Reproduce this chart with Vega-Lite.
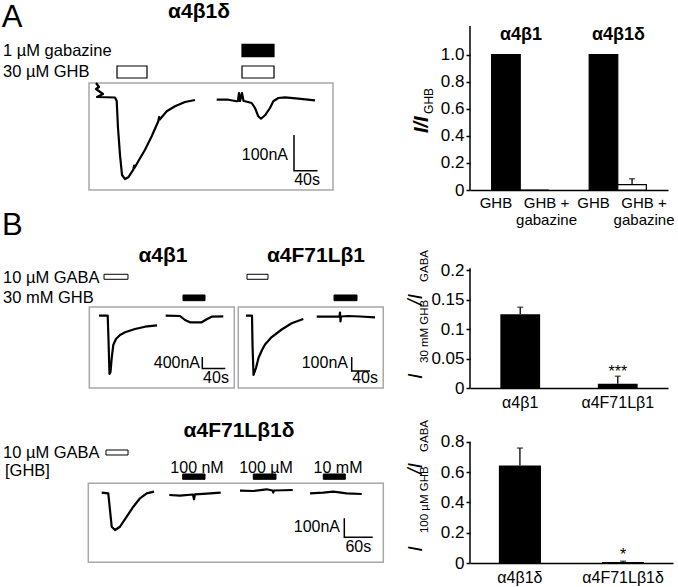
{
"$schema": "https://vega.github.io/schema/vega-lite/v6.json",
"padding": 0,
"background": "white",
"columns": 2,
"spacing": {"row": 0, "column": 30},
"bounds": "flush",
"align": "each",
"resolve": {"scale": {"x": "independent", "y": "independent", "fill": "independent", "xOffset": "independent"}},
"config": {"font": "Liberation Sans", "view": {"stroke": null}, "axis": {"labelColor": "black", "domainColor": "black", "tickColor": "black", "labelOverlap": false, "labelBound": false}},
"concat": [
{
 "width": 440, "height": 190,
 "layer": [
  {"data": {"values": [{"t": 151.3, "t2": 566.1, "I": 39.2, "I2": -260.4}]},
   "mark": {"type": "rect", "fill": "white", "fillOpacity": 0, "stroke": "#a8a8a8", "strokeWidth": 1.5},
   "encoding": {"x": {"field": "t", "type": "quantitative", "scale": {"domain": [0, 748], "nice": false, "zero": false}, "axis": null}, "x2": {"field": "t2"},
                "y": {"field": "I", "type": "quantitative", "scale": {"domain": [-260.4, 271.6], "nice": false, "zero": false}, "axis": null}, "y2": {"field": "I2"}}},
  {"data": {"values": [
     {"drug": "GHB", "t": 198.9, "t2": 249.9, "I": 86.8, "I2": 53.2},
     {"drug": "gabazine", "t": 411.4, "t2": 465.8, "I": 147.6, "I2": 112.9},
     {"drug": "GHB", "t": 411.4, "t2": 465.8, "I": 86.8, "I2": 53.2}]},
   "mark": {"type": "rect", "stroke": "black", "strokeWidth": 1.2},
   "encoding": {"x": {"field": "t", "type": "quantitative", "axis": null}, "x2": {"field": "t2"},
                "y": {"field": "I", "type": "quantitative", "axis": null}, "y2": {"field": "I2"},
                "fill": {"field": "drug", "type": "nominal", "scale": {"domain": ["GHB", "gabazine"], "range": ["white", "black"]}, "legend": null}}},
  {"data": {"values": [
     {"trace": "GHB", "i": 0, "t": 163.2, "I": 39.2},
     {"trace": "GHB", "i": 1, "t": 168.3, "I": 28},
     {"trace": "GHB", "i": 2, "t": 163.2, "I": 22.4},
     {"trace": "GHB", "i": 3, "t": 175.1, "I": 8.4},
     {"trace": "GHB", "i": 4, "t": 164.9, "I": 0},
     {"trace": "GHB", "i": 5, "t": 195.5, "I": -1.4},
     {"trace": "GHB", "i": 6, "t": 198.4, "I": -11.2},
     {"trace": "GHB", "i": 7, "t": 200.6, "I": -86.8},
     {"trace": "GHB", "i": 8, "t": 204, "I": -162.4},
     {"trace": "GHB", "i": 9, "t": 207.4, "I": -218.4},
     {"trace": "GHB", "i": 10, "t": 212.5, "I": -229.6},
     {"trace": "GHB", "i": 11, "t": 218.1, "I": -224.8},
     {"trace": "GHB", "i": 12, "t": 226.6, "I": -203.6},
     {"trace": "GHB", "i": 13, "t": 228, "I": -192},
     {"trace": "GHB", "i": 14, "t": 228.6, "I": -199},
     {"trace": "GHB", "i": 15, "t": 235.1, "I": -180},
     {"trace": "GHB", "i": 16, "t": 246.5, "I": -147.6},
     {"trace": "GHB", "i": 17, "t": 257.9, "I": -110},
     {"trace": "GHB", "i": 18, "t": 269.1, "I": -68},
     {"trace": "GHB", "i": 19, "t": 270.5, "I": -56},
     {"trace": "GHB", "i": 20, "t": 271.6, "I": -63},
     {"trace": "GHB", "i": 21, "t": 283.4, "I": -40},
     {"trace": "GHB", "i": 22, "t": 297.5, "I": -26},
     {"trace": "GHB", "i": 23, "t": 314.5, "I": -14},
     {"trace": "GHB", "i": 24, "t": 331.5, "I": -8.4},
     {"trace": "GHB + gabazine", "i": 0, "t": 368.4, "I": -7.6},
     {"trace": "GHB + gabazine", "i": 1, "t": 388.1, "I": -7.6},
     {"trace": "GHB + gabazine", "i": 2, "t": 402.4, "I": -12},
     {"trace": "GHB + gabazine", "i": 3, "t": 404.6, "I": -11.2},
     {"trace": "GHB + gabazine", "i": 4, "t": 406.3, "I": 11.2},
     {"trace": "GHB + gabazine", "i": 5, "t": 408, "I": -11.2},
     {"trace": "GHB + gabazine", "i": 6, "t": 411.4, "I": 11.2},
     {"trace": "GHB + gabazine", "i": 7, "t": 414, "I": -11.2},
     {"trace": "GHB + gabazine", "i": 8, "t": 416.5, "I": -12},
     {"trace": "GHB + gabazine", "i": 9, "t": 427.9, "I": -16.8},
     {"trace": "GHB + gabazine", "i": 10, "t": 433.5, "I": -30.8},
     {"trace": "GHB + gabazine", "i": 11, "t": 439.1, "I": -54},
     {"trace": "GHB + gabazine", "i": 12, "t": 443.7, "I": -60.8},
     {"trace": "GHB + gabazine", "i": 13, "t": 450.5, "I": -51.2},
     {"trace": "GHB + gabazine", "i": 14, "t": 459, "I": -30.8},
     {"trace": "GHB + gabazine", "i": 15, "t": 464.6, "I": -12},
     {"trace": "GHB + gabazine", "i": 16, "t": 473.1, "I": -2.8},
     {"trace": "GHB + gabazine", "i": 17, "t": 484.5, "I": -0.8},
     {"trace": "GHB + gabazine", "i": 18, "t": 507.1, "I": -4.8},
     {"trace": "GHB + gabazine", "i": 19, "t": 535.5, "I": -9.2}]},
   "mark": {"type": "line", "color": "black", "strokeWidth": 2.2, "strokeJoin": "round"},
   "encoding": {"x": {"field": "t", "type": "quantitative", "axis": null}, "y": {"field": "I", "type": "quantitative", "axis": null},
                "detail": {"field": "trace"}, "order": {"field": "i", "type": "quantitative"}}},
  {"data": {"values": [{"i": 0, "t": 499.8, "I": -106.3}, {"i": 1, "t": 499.8, "I": -206.3}, {"i": 2, "t": 539.8, "I": -206.3}]},
   "mark": {"type": "line", "color": "black", "strokeWidth": 1.5},
   "encoding": {"x": {"field": "t", "type": "quantitative", "axis": null}, "y": {"field": "I", "type": "quantitative", "axis": null}, "order": {"field": "i", "type": "quantitative"}}},
  {"data": {"values": [{"label": "1 µM gabazine", "t": 5.1, "I": 116.2}, {"label": "30 µM GHB", "t": 5.1, "I": 56}]},
   "mark": {"type": "text", "align": "left", "baseline": "alphabetic", "fontSize": 16.5},
   "encoding": {"x": {"field": "t", "type": "quantitative", "axis": null}, "y": {"field": "I", "type": "quantitative", "axis": null}, "text": {"field": "label"}}},
  {"data": {"values": [{"label": "100nA", "t": 489.6, "I": -175}]},
   "mark": {"type": "text", "align": "right", "baseline": "alphabetic", "fontSize": 16},
   "encoding": {"x": {"field": "t", "type": "quantitative", "axis": null}, "y": {"field": "I", "type": "quantitative", "axis": null}, "text": {"field": "label"}}},
  {"data": {"values": [{"label": "40s", "t": 522, "I": -246.4}]},
   "mark": {"type": "text", "align": "center", "baseline": "alphabetic", "fontSize": 16},
   "encoding": {"x": {"field": "t", "type": "quantitative", "axis": null}, "y": {"field": "I", "type": "quantitative", "axis": null}, "text": {"field": "label"}}},
  {"data": {"values": [{"label": "α4β1δ", "t": 338.3, "I": 221.2}]},
   "mark": {"type": "text", "align": "center", "baseline": "alphabetic", "fontSize": 21, "fontWeight": "bold"},
   "encoding": {"x": {"field": "t", "type": "quantitative", "axis": null}, "y": {"field": "I", "type": "quantitative", "axis": null}, "text": {"field": "label"}}},
  {"data": {"values": [{"label": "A", "t": 2.9, "I": 196}]},
   "mark": {"type": "text", "align": "left", "baseline": "alphabetic", "fontSize": 31},
   "encoding": {"x": {"field": "t", "type": "quantitative", "axis": null}, "y": {"field": "I", "type": "quantitative", "axis": null}, "text": {"field": "label"}}}
 ]
},
{
 "width": 198, "height": 190,
 "data": {"values": [
   {"group": "α4β1", "cond": "GHB", "value": 1.0, "upper": 1.0},
   {"group": "α4β1", "cond": "GHB + gabazine", "value": 0, "upper": 0},
   {"group": "α4β1δ", "cond": "GHB", "value": 1.0, "upper": 1.0},
   {"group": "α4β1δ", "cond": "GHB + gabazine", "value": 0.04, "upper": 0.083}]},
 "layer": [
  {"mark": {"type": "bar", "stroke": "black", "strokeWidth": 1.2},
   "encoding": {
     "x": {"field": "group", "type": "nominal", "sort": null, "scale": {"paddingInner": 0.414, "paddingOuter": 0.222}, "axis": {"labels": false, "ticks": false, "title": null, "domainWidth": 1.5, "domainColor": "black"}},
     "xOffset": {"field": "cond", "type": "nominal", "sort": null, "scale": {"paddingInner": 0, "paddingOuter": 0}},
     "y": {"field": "value", "type": "quantitative", "scale": {"domain": [0, 1.404], "nice": false}, "axis": {"values": [0, 0.2, 0.4, 0.6, 0.8, 1.0], "labelOverlap": false, "tickCount": 6, "domain": false, "tickSize": 4, "tickWidth": 1.5, "labelFontSize": 17, "labelPadding": 2, "grid": false, "title": null, "labelExpr": "datum.value == 0 ? '0' : format(datum.value, '.1f')"}},
     "fill": {"field": "cond", "type": "nominal", "scale": {"domain": ["GHB", "GHB + gabazine"], "range": ["black", "white"]}, "legend": null}}},
  {"transform": [{"filter": "datum.upper > datum.value"}],
   "mark": {"type": "rule", "color": "black", "strokeWidth": 1.3},
   "encoding": {"x": {"field": "group", "type": "nominal", "sort": null}, "xOffset": {"field": "cond", "type": "nominal", "sort": null},
                "y": {"field": "value", "type": "quantitative"}, "y2": {"field": "upper"}}},
  {"transform": [{"filter": "datum.upper > datum.value"}],
   "mark": {"type": "tick", "color": "black", "size": 6, "thickness": 1.3},
   "encoding": {"x": {"field": "group", "type": "nominal", "sort": null}, "xOffset": {"field": "cond", "type": "nominal", "sort": null},
                "y": {"field": "upper", "type": "quantitative"}}},
  {"transform": [{"filter": "datum.cond == 'GHB'"}],
   "mark": {"type": "text", "fontSize": 18, "fontWeight": "bold", "baseline": "alphabetic", "dx": 15},
   "encoding": {"x": {"field": "group", "type": "nominal", "sort": null}, "xOffset": {"field": "cond", "type": "nominal", "sort": null}, "y": {"datum": 1.11}, "text": {"field": "group"}}},
  {"transform": [{"filter": "datum.cond == 'GHB'"}],
   "mark": {"type": "text", "fontSize": 15, "baseline": "alphabetic", "dx": -10},
   "encoding": {"x": {"field": "group", "type": "nominal", "sort": null}, "xOffset": {"field": "cond", "type": "nominal", "sort": null}, "y": {"datum": -0.133}, "text": {"value": "GHB"}}},
  {"transform": [{"filter": "datum.cond == 'GHB + gabazine'"}],
   "mark": {"type": "text", "fontSize": 15, "baseline": "alphabetic", "dx": 12, "lineBreak": "\n", "lineHeight": 17},
   "encoding": {"x": {"field": "group", "type": "nominal", "sort": null}, "xOffset": {"field": "cond", "type": "nominal", "sort": null}, "y": {"datum": -0.133}, "text": {"value": "GHB +\ngabazine"}}},
  {"data": {"values": [{}]},
   "mark": {"type": "rule", "color": "black", "strokeWidth": 1.5},
   "encoding": {"x": {"value": 0}, "y": {"datum": 0}, "y2": {"datum": 1.212}}},
  {"data": {"values": [{}]},
   "mark": {"type": "text", "angle": 270, "align": "left", "baseline": "alphabetic", "fontSize": 20, "fontStyle": "italic", "fontWeight": "bold"},
   "encoding": {"x": {"value": -42}, "y": {"datum": 0.421}, "text": {"value": "I/I"}}},
  {"data": {"values": [{}]},
   "mark": {"type": "text", "angle": 270, "align": "left", "baseline": "alphabetic", "fontSize": 12},
   "encoding": {"x": {"value": -37}, "y": {"datum": 0.562}, "text": {"value": "GHB"}}}
 ]
},
{
 "width": 440, "height": 198,
 "resolve": {"scale": {"x": "independent", "y": "independent"}},
 "layer": [
  {"layer": [
    {"data": {"values": [{"t": 155.4, "t2": 407.7, "I": 302.8, "I2": -2516}, {"t": 414.6, "t2": 666.9, "I": 302.8, "I2": -2516}]},
     "mark": {"type": "rect", "fill": "white", "fillOpacity": 0, "stroke": "#a8a8a8", "strokeWidth": 1.5},
     "encoding": {"x": {"field": "t", "type": "quantitative", "scale": {"domain": [0, 765.6], "nice": false, "zero": false}, "axis": null}, "x2": {"field": "t2"},
                  "y": {"field": "I", "type": "quantitative", "scale": {"domain": [-2516, 4374], "nice": false, "zero": false}, "axis": null}, "y2": {"field": "I2"}}},
    {"data": {"values": [
       {"drug": "GABA", "t": 181, "t2": 222.7, "I": 1440.7, "I2": 1266.7},
       {"drug": "GABA", "t": 429.8, "t2": 466.3, "I": 1440.7, "I2": 1266.7},
       {"drug": "GHB", "t": 318.4, "t2": 356.7, "I": 720.4, "I2": 522},
       {"drug": "GHB", "t": 581.2, "t2": 621.2, "I": 720.4, "I2": 522}]},
     "mark": {"type": "rect", "stroke": "black", "strokeWidth": 1},
     "encoding": {"x": {"field": "t", "type": "quantitative", "axis": null}, "x2": {"field": "t2"},
                  "y": {"field": "I", "type": "quantitative", "axis": null}, "y2": {"field": "I2"},
                  "fill": {"field": "drug", "type": "nominal", "scale": {"domain": ["GABA", "GHB"], "range": ["white", "black"]}, "legend": null}}},
    {"data": {"values": [
       {"trace": "GABA", "i": 0, "t": 172.3, "I": 0},
       {"trace": "GABA", "i": 1, "t": 187.4, "I": 0},
       {"trace": "GABA", "i": 2, "t": 188.8, "I": -845.6},
       {"trace": "GABA", "i": 3, "t": 190.5, "I": -2028.8},
       {"trace": "GABA", "i": 4, "t": 192.3, "I": -1959.2},
       {"trace": "GABA", "i": 5, "t": 194.4, "I": -1472},
       {"trace": "GABA", "i": 6, "t": 197.1, "I": -1019.6},
       {"trace": "GABA", "i": 7, "t": 201.8, "I": -810.8},
       {"trace": "GABA", "i": 8, "t": 208.8, "I": -671.6},
       {"trace": "GABA", "i": 9, "t": 217.5, "I": -577.7},
       {"trace": "GABA", "i": 10, "t": 234.9, "I": -462.8},
       {"trace": "GABA", "i": 11, "t": 252.3, "I": -382.8},
       {"trace": "GABA", "i": 12, "t": 273.2, "I": -334.1},
       {"trace": "GHB", "i": 0, "t": 288.3, "I": 0},
       {"trace": "GHB", "i": 1, "t": 313.2, "I": -10.4},
       {"trace": "GHB", "i": 2, "t": 321.9, "I": -149.6},
       {"trace": "GHB", "i": 3, "t": 330.6, "I": -229.7},
       {"trace": "GHB", "i": 4, "t": 351, "I": -229.7},
       {"trace": "GHB", "i": 5, "t": 359.7, "I": -125.3},
       {"trace": "GHB", "i": 6, "t": 368.4, "I": -34.8},
       {"trace": "GHB", "i": 7, "t": 388.5, "I": -20.9}]},
     "mark": {"type": "line", "color": "black", "strokeWidth": 2.2, "strokeJoin": "round"},
     "encoding": {"x": {"field": "t", "type": "quantitative", "axis": null}, "y": {"field": "I", "type": "quantitative", "axis": null},
                  "detail": {"field": "trace"}, "order": {"field": "i", "type": "quantitative"}}},
    {"data": {"values": [{"i": 0, "t": 352, "I": -1437}, {"i": 1, "t": 352, "I": -1837}, {"i": 2, "t": 392, "I": -1837}]},
     "mark": {"type": "line", "color": "black", "strokeWidth": 1.5},
     "encoding": {"x": {"field": "t", "type": "quantitative", "axis": null}, "y": {"field": "I", "type": "quantitative", "axis": null}, "order": {"field": "i", "type": "quantitative"}}},
    {"data": {"values": [{"label": "10 µM GABA", "t": 5.2, "I": 1138}, {"label": "30 mM GHB", "t": 5.2, "I": 442}]},
     "mark": {"type": "text", "align": "left", "baseline": "alphabetic", "fontSize": 16.5},
     "encoding": {"x": {"field": "t", "type": "quantitative", "axis": null}, "y": {"field": "I", "type": "quantitative", "axis": null}, "text": {"field": "label"}}},
    {"data": {"values": [{"label": "400nA", "t": 348, "I": -1820}]},
     "mark": {"type": "text", "align": "right", "baseline": "alphabetic", "fontSize": 16},
     "encoding": {"x": {"field": "t", "type": "quantitative", "axis": null}, "y": {"field": "I", "type": "quantitative", "axis": null}, "text": {"field": "label"}}},
    {"data": {"values": [{"label": "40s", "t": 375.8, "I": -2342}]},
     "mark": {"type": "text", "align": "center", "baseline": "alphabetic", "fontSize": 16},
     "encoding": {"x": {"field": "t", "type": "quantitative", "axis": null}, "y": {"field": "I", "type": "quantitative", "axis": null}, "text": {"field": "label"}}},
    {"data": {"values": [{"label": "α4β1", "t": 283.6, "I": 1868.8}, {"label": "α4F71Lβ1", "t": 549.8, "I": 1868.8}]},
     "mark": {"type": "text", "align": "center", "baseline": "alphabetic", "fontSize": 21, "fontWeight": "bold"},
     "encoding": {"x": {"field": "t", "type": "quantitative", "axis": null}, "y": {"field": "I", "type": "quantitative", "axis": null}, "text": {"field": "label"}}},
    {"data": {"values": [{"label": "B", "t": 3.5, "I": 2808}]},
     "mark": {"type": "text", "align": "left", "baseline": "alphabetic", "fontSize": 31},
     "encoding": {"x": {"field": "t", "type": "quantitative", "axis": null}, "y": {"field": "I", "type": "quantitative", "axis": null}, "text": {"field": "label"}}}
  ]},
  {"layer": [
    {"data": {"values": [
       {"trace": "GABA", "i": 0, "t": 538.7, "I": 0},
       {"trace": "GABA", "i": 1, "t": 551.9, "I": 0},
       {"trace": "GABA", "i": 2, "t": 553, "I": -209.2},
       {"trace": "GABA", "i": 3, "t": 555.2, "I": -423.4},
       {"trace": "GABA", "i": 4, "t": 560.6, "I": -373.4},
       {"trace": "GABA", "i": 5, "t": 566.1, "I": -302},
       {"trace": "GABA", "i": 6, "t": 573.8, "I": -244.9},
       {"trace": "GABA", "i": 7, "t": 580.4, "I": -205.6},
       {"trace": "GABA", "i": 8, "t": 595, "I": -152.1},
       {"trace": "GABA", "i": 9, "t": 616.9, "I": -98.5},
       {"trace": "GABA", "i": 10, "t": 638.8, "I": -54.3},
       {"trace": "GABA", "i": 11, "t": 664.2, "I": -23.6},
       {"trace": "GHB", "i": 0, "t": 693.6, "I": -7.1},
       {"trace": "GHB", "i": 1, "t": 740.9, "I": -7.1},
       {"trace": "GHB", "i": 2, "t": 743.5, "I": -5.7},
       {"trace": "GHB", "i": 3, "t": 744.6, "I": 22.8},
       {"trace": "GHB", "i": 4, "t": 745.7, "I": -41.4},
       {"trace": "GHB", "i": 5, "t": 746.8, "I": -5.7},
       {"trace": "GHB", "i": 6, "t": 762.8, "I": -2.1},
       {"trace": "GHB", "i": 7, "t": 788.4, "I": -5.7},
       {"trace": "GHB", "i": 8, "t": 821.3, "I": -11.4}]},
     "mark": {"type": "line", "color": "black", "strokeWidth": 2.2, "strokeJoin": "round"},
     "encoding": {"x": {"field": "t", "type": "quantitative", "scale": {"domain": [0, 963.6], "nice": false, "zero": false}, "axis": null},
                  "y": {"field": "I", "type": "quantitative", "scale": {"domain": [-516.2, 897.5], "nice": false, "zero": false}, "axis": null},
                  "detail": {"field": "trace"}, "order": {"field": "i", "type": "quantitative"}}},
    {"data": {"values": [{"i": 0, "t": 770.2, "I": -294.9}, {"i": 1, "t": 770.2, "I": -394.9}, {"i": 2, "t": 810.2, "I": -394.9}]},
     "mark": {"type": "line", "color": "black", "strokeWidth": 1.5},
     "encoding": {"x": {"field": "t", "type": "quantitative", "axis": null}, "y": {"field": "I", "type": "quantitative", "axis": null}, "order": {"field": "i", "type": "quantitative"}}},
    {"data": {"values": [{"label": "100nA", "t": 762.1, "I": -373.4}]},
     "mark": {"type": "text", "align": "right", "baseline": "alphabetic", "fontSize": 16},
     "encoding": {"x": {"field": "t", "type": "quantitative", "axis": null}, "y": {"field": "I", "type": "quantitative", "axis": null}, "text": {"field": "label"}}},
    {"data": {"values": [{"label": "40s", "t": 799.4, "I": -480.5}]},
     "mark": {"type": "text", "align": "center", "baseline": "alphabetic", "fontSize": 16},
     "encoding": {"x": {"field": "t", "type": "quantitative", "axis": null}, "y": {"field": "I", "type": "quantitative", "axis": null}, "text": {"field": "label"}}}
  ]}
 ]
},
{
 "width": 198, "height": 198,
 "data": {"values": [{"construct": "α4β1", "value": 0.125, "upper": 0.137}, {"construct": "α4F71Lβ1", "value": 0.007, "upper": 0.02}]},
 "layer": [
  {"mark": {"type": "bar", "color": "black"},
   "encoding": {
     "x": {"field": "construct", "type": "nominal", "sort": null, "scale": {"paddingInner": 0.592, "paddingOuter": 0.311}, "axis": {"title": null, "ticks": false, "labelFontSize": 16, "labelAngle": 0, "labelPadding": 6, "domainWidth": 1.5, "domainColor": "black", "labelColor": "black"}},
     "y": {"field": "value", "type": "quantitative", "scale": {"domain": [0, 0.3356], "nice": false}, "axis": {"values": [0, 0.05, 0.1, 0.15, 0.2], "labelOverlap": false, "domain": false, "tickSize": 4, "tickWidth": 1.5, "labelFontSize": 17, "labelPadding": 2, "grid": false, "title": null, "labelExpr": "format(datum.value, '~g')"}}}},
  {"mark": {"type": "rule", "color": "black", "strokeWidth": 1.3},
   "encoding": {"x": {"field": "construct", "type": "nominal", "sort": null}, "y": {"field": "value", "type": "quantitative"}, "y2": {"field": "upper"}}},
  {"mark": {"type": "tick", "color": "black", "size": 6, "thickness": 1.3},
   "encoding": {"x": {"field": "construct", "type": "nominal", "sort": null}, "y": {"field": "upper", "type": "quantitative"}}},
  {"transform": [{"filter": "datum.construct == 'α4F71Lβ1'"}],
   "mark": {"type": "text", "fontSize": 16, "baseline": "alphabetic"},
   "encoding": {"x": {"field": "construct", "type": "nominal", "sort": null}, "y": {"datum": 0.0178}, "text": {"value": "***"}}},
  {"data": {"values": [{}]},
   "mark": {"type": "rule", "color": "black", "strokeWidth": 1.5},
   "encoding": {"x": {"value": 0}, "y": {"datum": 0}, "y2": {"datum": 0.203}}},
  {"data": {"values": [{}]},
   "mark": {"type": "text", "angle": 270, "align": "left", "baseline": "alphabetic", "fontSize": 20, "fontStyle": "italic"},
   "encoding": {"x": {"value": -48}, "y": {"datum": 0.0153}, "text": {"value": "I"}}},
  {"data": {"values": [{}]},
   "mark": {"type": "text", "angle": 270, "align": "left", "baseline": "alphabetic", "fontSize": 11.5},
   "encoding": {"x": {"value": -42}, "y": {"datum": 0.0424}, "text": {"value": "30 mM GHB"}}},
  {"data": {"values": [{}]},
   "mark": {"type": "text", "angle": 270, "align": "left", "baseline": "alphabetic", "fontSize": 20, "fontStyle": "italic"},
   "encoding": {"x": {"value": -48}, "y": {"datum": 0.1407}, "text": {"value": "/I"}}},
  {"data": {"values": [{}]},
   "mark": {"type": "text", "angle": 270, "align": "left", "baseline": "alphabetic", "fontSize": 11.5},
   "encoding": {"x": {"value": -42}, "y": {"datum": 0.1797}, "text": {"value": "GABA"}}}
 ]
},
{
 "width": 440, "height": 199,
 "layer": [
  {"data": {"values": [{"t": 186.6, "t2": 809.9, "I": 49.5, "I2": -366.3}]},
   "mark": {"type": "rect", "fill": "white", "fillOpacity": 0, "stroke": "#a8a8a8", "strokeWidth": 1.5},
   "encoding": {"x": {"field": "t", "type": "quantitative", "scale": {"domain": [0, 929.7], "nice": false, "zero": false}, "axis": null}, "x2": {"field": "t2"},
                "y": {"field": "I", "type": "quantitative", "scale": {"domain": [-496.3, 551], "nice": false, "zero": false}, "axis": null}, "y2": {"field": "I2"}}},
  {"data": {"values": [
     {"drug": "GABA", "t": 224, "t2": 270.5, "I": 224.7, "I2": 198.4},
     {"drug": "GHB", "t": 386, "t2": 433.2, "I": 98.4, "I2": 70.5},
     {"drug": "GHB", "t": 535.2, "t2": 583.2, "I": 98.4, "I2": 70.5},
     {"drug": "GHB", "t": 683.1, "t2": 729.6, "I": 98.4, "I2": 70.5}]},
   "mark": {"type": "rect", "stroke": "black", "strokeWidth": 1},
   "encoding": {"x": {"field": "t", "type": "quantitative", "axis": null}, "x2": {"field": "t2"},
                "y": {"field": "I", "type": "quantitative", "axis": null}, "y2": {"field": "I2"},
                "fill": {"field": "drug", "type": "nominal", "scale": {"domain": ["GABA", "GHB"], "range": ["white", "black"]}, "legend": null}}},
  {"data": {"values": [
     {"trace": "GABA", "i": 0, "t": 214.9, "I": 0},
     {"trace": "GABA", "i": 1, "t": 228.8, "I": -3.2},
     {"trace": "GABA", "i": 2, "t": 232.4, "I": -91},
     {"trace": "GABA", "i": 3, "t": 236, "I": -179},
     {"trace": "GABA", "i": 4, "t": 243, "I": -196.3},
     {"trace": "GABA", "i": 5, "t": 253.6, "I": -179},
     {"trace": "GABA", "i": 6, "t": 267.7, "I": -126.3},
     {"trace": "GABA", "i": 7, "t": 281.7, "I": -73.7},
     {"trace": "GABA", "i": 8, "t": 295.8, "I": -29.5},
     {"trace": "GABA", "i": 9, "t": 310, "I": -3.2},
     {"trace": "GABA", "i": 10, "t": 325.4, "I": 5.3},
     {"trace": "100 nM", "i": 0, "t": 357.7, "I": -12.1},
     {"trace": "100 nM", "i": 1, "t": 380.3, "I": -15.8},
     {"trace": "100 nM", "i": 2, "t": 407.8, "I": -9.5},
     {"trace": "100 nM", "i": 3, "t": 409.9, "I": -34.7},
     {"trace": "100 nM", "i": 4, "t": 412, "I": -8.4},
     {"trace": "100 nM", "i": 5, "t": 436.8, "I": -5.3},
     {"trace": "100 nM", "i": 6, "t": 466.3, "I": 0},
     {"trace": "100 µM", "i": 0, "t": 507.1, "I": 10.5},
     {"trace": "100 µM", "i": 1, "t": 535.2, "I": 8.9},
     {"trace": "100 µM", "i": 2, "t": 563.5, "I": 17.9},
     {"trace": "100 µM", "i": 3, "t": 575.8, "I": 11.6},
     {"trace": "100 µM", "i": 4, "t": 577.5, "I": 1.1},
     {"trace": "100 µM", "i": 5, "t": 579, "I": 11.6},
     {"trace": "100 µM", "i": 6, "t": 618.5, "I": 14.2},
     {"trace": "10 mM", "i": 0, "t": 655, "I": -3.2},
     {"trace": "10 mM", "i": 1, "t": 683.1, "I": 0},
     {"trace": "10 mM", "i": 2, "t": 704.3, "I": 5.3},
     {"trace": "10 mM", "i": 3, "t": 732.6, "I": -3.2},
     {"trace": "10 mM", "i": 4, "t": 764.3, "I": -6.8}]},
   "mark": {"type": "line", "color": "black", "strokeWidth": 2.2, "strokeJoin": "round"},
   "encoding": {"x": {"field": "t", "type": "quantitative", "axis": null}, "y": {"field": "I", "type": "quantitative", "axis": null},
                "detail": {"field": "trace"}, "order": {"field": "i", "type": "quantitative"}}},
  {"data": {"values": [{"i": 0, "t": 727.5, "I": -134.7}, {"i": 1, "t": 727.5, "I": -234.7}, {"i": 2, "t": 787.5, "I": -234.7}]},
   "mark": {"type": "line", "color": "black", "strokeWidth": 1.5},
   "encoding": {"x": {"field": "t", "type": "quantitative", "axis": null}, "y": {"field": "I", "type": "quantitative", "axis": null}, "order": {"field": "i", "type": "quantitative"}}},
  {"data": {"values": [{"label": "10 µM GABA", "t": 6.3, "I": 182.6}, {"label": "[GHB]", "t": 10.6, "I": 87.9}]},
   "mark": {"type": "text", "align": "left", "baseline": "alphabetic", "fontSize": 16.5},
   "encoding": {"x": {"field": "t", "type": "quantitative", "axis": null}, "y": {"field": "I", "type": "quantitative", "axis": null}, "text": {"field": "label"}}},
  {"data": {"values": [{"label": "100 nM", "t": 416.3, "I": 103.7}, {"label": "100 µM", "t": 562.1, "I": 103.7}, {"label": "10 mM", "t": 714.2, "I": 103.7}, {"label": "60s", "t": 757.1, "I": -310.5}]},
   "mark": {"type": "text", "align": "center", "baseline": "alphabetic", "fontSize": 16},
   "encoding": {"x": {"field": "t", "type": "quantitative", "axis": null}, "y": {"field": "I", "type": "quantitative", "axis": null}, "text": {"field": "label"}}},
  {"data": {"values": [{"label": "100nA", "t": 718.4, "I": -205.3}]},
   "mark": {"type": "text", "align": "right", "baseline": "alphabetic", "fontSize": 16},
   "encoding": {"x": {"field": "t", "type": "quantitative", "axis": null}, "y": {"field": "I", "type": "quantitative", "axis": null}, "text": {"field": "label"}}},
  {"data": {"values": [{"label": "α4F71Lβ1δ", "t": 505, "I": 293.2}]},
   "mark": {"type": "text", "align": "center", "baseline": "alphabetic", "fontSize": 21, "fontWeight": "bold"},
   "encoding": {"x": {"field": "t", "type": "quantitative", "axis": null}, "y": {"field": "I", "type": "quantitative", "axis": null}, "text": {"field": "label"}}}
 ]
},
{
 "width": 203, "height": 175,
 "data": {"values": [{"construct": "α4β1δ", "value": 0.645, "upper": 0.76}, {"construct": "α4F71Lβ1δ", "value": 0.006, "upper": 0.012}]},
 "layer": [
  {"mark": {"type": "bar", "color": "black"},
   "encoding": {
     "x": {"field": "construct", "type": "nominal", "sort": null, "scale": {"paddingInner": 0.592, "paddingOuter": 0.28}, "axis": {"title": null, "ticks": false, "labelFontSize": 16, "labelAngle": 0, "labelPadding": 6, "domainWidth": 1.5, "domainColor": "black", "labelColor": "black"}},
     "y": {"field": "value", "type": "quantitative", "scale": {"domain": [0, 1.157], "nice": false}, "axis": {"values": [0, 0.2, 0.4, 0.6, 0.8], "labelOverlap": false, "domain": false, "tickSize": 4, "tickWidth": 1.5, "labelFontSize": 17, "labelPadding": 2, "grid": false, "title": null, "labelExpr": "format(datum.value, '~g')"}}}},
  {"mark": {"type": "rule", "color": "black", "strokeWidth": 1.3},
   "encoding": {"x": {"field": "construct", "type": "nominal", "sort": null}, "y": {"field": "value", "type": "quantitative"}, "y2": {"field": "upper"}}},
  {"mark": {"type": "tick", "color": "black", "size": 6, "thickness": 1.3},
   "encoding": {"x": {"field": "construct", "type": "nominal", "sort": null}, "y": {"field": "upper", "type": "quantitative"}}},
  {"transform": [{"filter": "datum.construct == 'α4F71Lβ1δ'"}],
   "mark": {"type": "text", "fontSize": 16, "baseline": "alphabetic"},
   "encoding": {"x": {"field": "construct", "type": "nominal", "sort": null}, "y": {"datum": 0.023}, "text": {"value": "*"}}},
  {"data": {"values": [{}]},
   "mark": {"type": "rule", "color": "black", "strokeWidth": 1.5},
   "encoding": {"x": {"value": 0}, "y": {"datum": 0}, "y2": {"datum": 0.802}}},
  {"data": {"values": [{}]},
   "mark": {"type": "text", "angle": 270, "align": "left", "baseline": "alphabetic", "fontSize": 20, "fontStyle": "italic"},
   "encoding": {"x": {"value": -48}, "y": {"datum": 0.0747}, "text": {"value": "I"}}},
  {"data": {"values": [{}]},
   "mark": {"type": "text", "angle": 270, "align": "left", "baseline": "alphabetic", "fontSize": 11.5},
   "encoding": {"x": {"value": -42}, "y": {"datum": 0.198}, "text": {"value": "100 µM GHB"}}},
  {"data": {"values": [{}]},
   "mark": {"type": "text", "angle": 270, "align": "left", "baseline": "alphabetic", "fontSize": 20, "fontStyle": "italic"},
   "encoding": {"x": {"value": -48}, "y": {"datum": 0.588}, "text": {"value": "/I"}}},
  {"data": {"values": [{}]},
   "mark": {"type": "text", "angle": 270, "align": "left", "baseline": "alphabetic", "fontSize": 11.5},
   "encoding": {"x": {"value": -42}, "y": {"datum": 0.734}, "text": {"value": "GABA"}}}
 ]
}
]
}
